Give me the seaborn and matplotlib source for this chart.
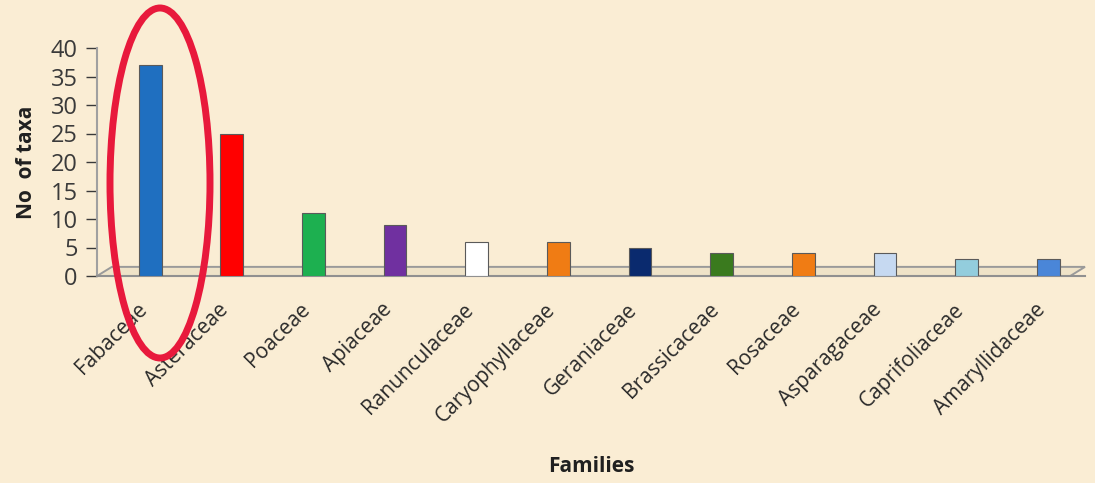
import matplotlib
matplotlib.use("Agg")
import matplotlib.pyplot as plt
import matplotlib.transforms as mtransforms
import seaborn as sns
import pandas as pd
from matplotlib.patches import Ellipse, Polygon

families = ["Fabaceae", "Asteraceae", "Poaceae", "Apiaceae", "Ranunculaceae",
            "Caryophyllaceae", "Geraniaceae", "Brassicaceae", "Rosaceae",
            "Asparagaceae", "Caprifoliaceae", "Amaryllidaceae"]
taxa = [37, 25, 11, 9, 6, 6, 5, 4, 4, 4, 3, 3]
colors = ["#1F6FC0", "#FF0000", "#1DB050", "#7030A0", "#FFFFFF", "#F07C14",
          "#0A2A6E", "#3A7A1E", "#F07C14", "#C6D9F1", "#93CDDD", "#4A86D8"]
yticks = [0, 5, 10, 15, 20, 25, 30, 35, 40]

bg = "#FAEDD4"
sns.set_theme(style="white")
plt.rcParams["font.family"] = ["Open Sans", "DejaVu Sans"]

fig = plt.figure(figsize=(10.95, 4.83), dpi=100, facecolor=bg)
ax = fig.add_axes([97/1095, (483-276)/483, (1085-97)/1095, 228/483])
ax.set_facecolor(bg)

df = pd.DataFrame({"Family": families, "Taxa": taxa})
sns.barplot(data=df, x="Family", y="Taxa", hue="Family", palette=colors,
            saturation=1, legend=False, width=0.28, edgecolor="#5a5a5a",
            linewidth=0.8, ax=ax, zorder=3)

ax.set_xlim(-0.65, 11.45)
ax.set_ylim(0, 40)
ax.set_yticks(yticks)
ax.tick_params(axis="y", labelsize=17, colors="#3a3a3a", length=8, width=1,
               left=True, direction="out", pad=6)
ax.tick_params(axis="x", length=0, pad=22)
ax.set_xticks(range(len(families)))
ax.set_xticklabels(families, rotation=45, ha="right", va="center",
                   rotation_mode="anchor", fontsize=15, color="#2a2a2a")
shift = mtransforms.ScaledTranslation(-6/100, 0, fig.dpi_scale_trans)
for lab in ax.get_xticklabels():
    lab.set_transform(lab.get_transform() + shift)
ax.set_ylabel("No  of taxa", fontsize=15, fontweight="bold", color="#202020", labelpad=10)
ax.set_xlabel("Families", fontsize=15, fontweight="bold", color="#202020")
ax.xaxis.set_label_coords(0.5, -(456 - 276) / 228, transform=ax.transAxes)
for s in ["top", "right"]:
    ax.spines[s].set_visible(False)
ax.spines["left"].set_color("#a0a0a0")
ax.spines["left"].set_linewidth(1.5)
ax.spines["bottom"].set_color("#909090")
ax.spines["bottom"].set_linewidth(1.5)

# floor strip
floor = Polygon([[0.0, 0.0], [0.985, 0.0], [1.0, 0.04], [0.015, 0.04]],
                closed=True, transform=ax.transAxes, facecolor="#EFE3C8",
                edgecolor="#9a9a9a", linewidth=1.4, zorder=0.5, clip_on=False)
ax.add_patch(floor)

# red ellipse highlighting Fabaceae
ell = Ellipse((160/1095, 1 - 183/483), width=100/1095, height=350/483,
              transform=fig.transFigure, fill=False, edgecolor="#E8193C",
              linewidth=5, zorder=10)
fig.patches.append(ell)

fig.savefig("out.png", dpi=100, facecolor=bg)
